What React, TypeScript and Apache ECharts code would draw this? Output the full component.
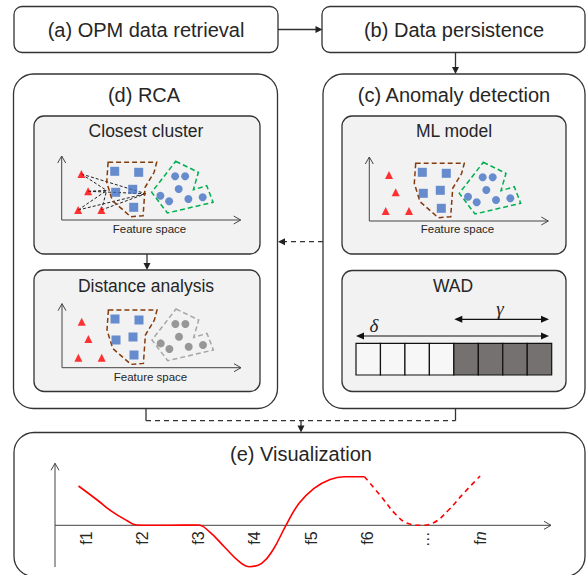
import React, { useEffect, useRef } from "react";
import * as echarts from "echarts";

const FONT = "'Liberation Sans', Arial, sans-serif";
const INK = "#262626";

// ---- feature-space scatter data (units: x right, y up from axis corner) ----
const redTriangles = [[19.7, 46], [26.4, 28.7], [16.4, 10], [39.7, 10]];
const blueSquares = [[53, 48.7], [77, 47.7], [54, 27.7], [71, 30.7], [72, 12.7]];
const clusterCircles = [[113.4, 43.7], [123.4, 43.7], [117, 31], [98.7, 24.3], [107.4, 18.7], [126.7, 21], [141, 22.7]];
const squareHull = [[46.4, 57.7], [95, 57.7], [92.4, 47.7], [83.4, 32.7], [81.4, 4.3], [69, 3.3], [50.7, 19.3], [45, 37.7]];
const circleHull = [[114, 58.7], [136.7, 47.7], [131.7, 30.3], [145, 34.3], [151.4, 17.7], [105.7, 7], [90, 27.7]];
const linkTargets = [[45, 29.5], [84, 26.3]];

// ---- visualization curve ----
const featureLabels = ["f1", "f2", "f3", "f4", "f5", "f6", "…", "fn"];
const vizSolid = [[0.867, 39.3], [1.199, 25.3], [1.464, 13.6], [1.73, 4.6], [1.895, 0.3], [2.46, 0], [2.991, 0.3], [3.19, -6.4], [3.456, -21.4], [3.723, -36.4], [3.908, -41.4], [4.121, -38], [4.32, -24.7], [4.552, 0], [4.785, 22], [5.05, 37], [5.316, 45.3], [5.581, 48.6], [5.947, 48.6]];
const vizDashed = [[5.947, 48.6], [6.245, 28.6], [6.512, 10.3], [6.711, 2], [6.943, 0], [7.174, 2.6], [7.44, 15.3], [7.707, 32], [8.0, 49.3]];

// ---- WAD window cells ----
const wadCells = ["old", "old", "old", "old", "new", "new", "new", "new"];

// panel origins (axis corners) in pixels
const panels = [
  { name: "closest", ox: 61.7, oy: 220, circleColor: "#4472c4", hullColor: "#00b050", links: true },
  { name: "distance", ox: 62, oy: 367.7, circleColor: "#808080", hullColor: "#a6a6a6", links: false },
  { name: "ml", ox: 369.3, oy: 221, circleColor: "#4472c4", hullColor: "#00b050", links: false },
];
const PW = 180;
const PH = 65;

function box(x: number, y: number, w: number, h: number, r: number, fill: string, lw = 1.3) {
  return { type: "rect", shape: { x, y, width: w, height: h, r }, style: { fill, stroke: "#333", lineWidth: lw }, z: 0 };
}
function text(x: number, y: number, t: string, size: number, extra: any = {}) {
  return {
    type: "text", z: 5,
    style: { x, y, text: t, fontSize: size, fontFamily: FONT, fill: INK, align: "center", verticalAlign: "middle", ...extra },
  };
}
function line(x1: number, y1: number, x2: number, y2: number, dash?: number[], color = "#333", lw = 1.3) {
  return { type: "line", z: 3, shape: { x1, y1, x2, y2 }, style: { stroke: color, lineWidth: lw, lineDash: dash || null } };
}
function head(tx: number, ty: number, dir: "r" | "l" | "d", len = 7, half = 3.5, color = "#222") {
  let pts: number[][];
  if (dir === "r") pts = [[tx, ty], [tx - len, ty - half], [tx - len, ty + half]];
  else if (dir === "l") pts = [[tx, ty], [tx + len, ty - half], [tx + len, ty + half]];
  else pts = [[tx, ty], [tx - half, ty - len], [tx + half, ty - len]];
  return { type: "polygon", z: 4, shape: { points: pts }, style: { fill: color } };
}
function chevronAxes(ox: number, oy: number, up: number, right: number, color = "#444") {
  return [
    { type: "polyline", z: 3, shape: { points: [[ox, oy - up], [ox, oy], [ox + right, oy]] }, style: { stroke: color, lineWidth: 1, fill: "none" } },
    { type: "polyline", z: 3, shape: { points: [[ox - 4, oy - up + 7], [ox, oy - up], [ox + 4, oy - up + 7]] }, style: { stroke: color, lineWidth: 1, fill: "none" } },
    { type: "polyline", z: 3, shape: { points: [[ox + right - 7, oy - 4], [ox + right, oy], [ox + right - 7, oy + 4]] }, style: { stroke: color, lineWidth: 1, fill: "none" } },
  ];
}

export default function App() {
  const ref = useRef<HTMLDivElement>(null);
  useEffect(() => {
    if (!ref.current) return;
    const chart = echarts.init(ref.current, undefined, { renderer: "svg" });

    const grids: any[] = [];
    const xAxes: any[] = [];
    const yAxes: any[] = [];
    const series: any[] = [];

    panels.forEach((p, i) => {
      grids.push({ left: p.ox, top: p.oy - PH, width: PW, height: PH, outerBoundsMode: "none", containLabel: false });
      xAxes.push({ gridIndex: i, type: "value", min: 0, max: PW, show: false });
      yAxes.push({ gridIndex: i, type: "value", min: 0, max: PH, show: false });
      if (p.links) {
        const links: number[][] = [];
        redTriangles.forEach((t) => linkTargets.forEach((g) => links.push([t[0], t[1], g[0], g[1]])));
        series.push({
          type: "custom", xAxisIndex: i, yAxisIndex: i, z: 2, silent: true,
          data: links,
          renderItem: (_: any, api: any) => {
            const a = api.coord([api.value(0), api.value(1)]);
            const b = api.coord([api.value(2), api.value(3)]);
            return { type: "line", shape: { x1: a[0], y1: a[1], x2: b[0], y2: b[1] }, style: { stroke: "#222", lineWidth: 1, lineDash: [3, 2] } };
          },
        });
      }
      [[squareHull, "#843c0c"], [circleHull, p.hullColor]].forEach(([hull, color]: any) => {
        series.push({
          type: "custom", xAxisIndex: i, yAxisIndex: i, z: 3, silent: true,
          data: [[0, 0]],
          renderItem: (_: any, api: any) => ({
            type: "polygon",
            shape: { points: hull.map((pt: number[]) => api.coord(pt)) },
            style: { fill: "none", stroke: color, lineWidth: 1.5, lineDash: [5, 3] },
          }),
        });
      });
      series.push({ type: "scatter", xAxisIndex: i, yAxisIndex: i, z: 4, symbol: "triangle", symbolSize: 8, itemStyle: { color: "#ff0000" }, data: redTriangles, silent: true });
      series.push({ type: "scatter", xAxisIndex: i, yAxisIndex: i, z: 4, symbol: "rect", symbolSize: 9, itemStyle: { color: "#4472c4" }, data: blueSquares, silent: true });
      series.push({ type: "scatter", xAxisIndex: i, yAxisIndex: i, z: 4, symbol: "circle", symbolSize: 8, itemStyle: { color: p.circleColor }, data: clusterCircles, silent: true });
    });

    // visualization grid (curve)
    const vi = panels.length;
    grids.push({ left: 29.7, top: 470.3, width: 506.7, height: 100, outerBoundsMode: "none", containLabel: false });
    xAxes.push({ gridIndex: vi, type: "value", min: 0, max: 9, show: false });
    yAxes.push({ gridIndex: vi, type: "value", min: -45, max: 55, show: false });
    series.push({ type: "line", xAxisIndex: vi, yAxisIndex: vi, data: vizSolid, smooth: 0.45, showSymbol: false, lineStyle: { color: "#ff0000", width: 1.6 }, silent: true, z: 4 });
    series.push({ type: "line", xAxisIndex: vi, yAxisIndex: vi, data: vizDashed, smooth: 0.45, showSymbol: false, lineStyle: { color: "#ff0000", width: 1.6, type: [5, 4] }, silent: true, z: 4 });

    // visualization grid (feature axis, bottom edge on the zero line)
    const li = vi + 1;
    grids.push({ left: 29.7, top: 470.3, width: 506.7, height: 55, outerBoundsMode: "none", containLabel: false });
    xAxes.push({
      gridIndex: li, type: "value", min: 0, max: 9, interval: 1, position: "bottom",
      axisLine: { show: false }, axisTick: { show: false }, splitLine: { show: false },
      axisLabel: {
        rotate: 90, margin: 6, fontSize: 16, fontFamily: FONT, color: INK,
        showMinLabel: true, showMaxLabel: true, hideOverlap: false,
        formatter: (v: number) => {
          const k = Math.round(v);
          if (k < 1 || k > featureLabels.length) return "";
          const s = featureLabels[k - 1];
          if (s === "fn") return "{t|f}{it|n}";
          return s;
        },
        rich: {
          t: { fontSize: 16, fontFamily: FONT, color: INK },
          it: { fontSize: 16, fontFamily: FONT, color: INK, fontStyle: "italic" },
        },
      },
    });
    yAxes.push({ gridIndex: li, type: "value", min: 0, max: 1, show: false });

    // ---- diagram frame ----
    const g: any[] = [];
    g.push(box(14, 6.5, 264, 46, 8, "#fff"));
    g.push(box(322, 6.5, 263, 46, 8, "#fff"));
    g.push(box(13.5, 74, 264, 334.5, 20, "#fff"));
    g.push(box(323, 74, 262, 334.5, 20, "#fff"));
    g.push(box(14, 432.5, 571, 144, 20, "#fff"));
    g.push(box(34, 116, 226, 138, 10, "#f2f2f2"));
    g.push(box(34, 270, 226, 121.5, 10, "#f2f2f2"));
    g.push(box(342, 116, 224, 138, 10, "#f2f2f2"));
    g.push(box(342, 270.5, 224, 121, 10, "#f2f2f2"));

    g.push(text(146, 29.5, "(a) OPM data retrieval", 20));
    g.push(text(454, 29.5, "(b) Data persistence", 20));
    g.push(text(144, 95, "(d) RCA", 20));
    g.push(text(454, 95, "(c) Anomaly detection", 20));
    g.push(text(301, 454, "(e) Visualization", 20));
    g.push(text(146, 131, "Closest cluster", 17.5));
    g.push(text(146, 285.5, "Distance analysis", 17.5));
    g.push(text(454, 131, "ML model", 17.5));
    g.push(text(453, 285.5, "WAD", 17.5));
    g.push(text(149.5, 228.5, "Feature space", 11.5));
    g.push(text(150.5, 376.5, "Feature space", 11.5));
    g.push(text(457.5, 229, "Feature space", 11.5));

    // connectors
    g.push(line(278, 29.5, 316, 29.5));
    g.push(head(322.5, 29.5, "r"));
    g.push(line(455.5, 52.5, 455.5, 67));
    g.push(head(455.5, 74, "d"));
    g.push(line(323, 241.7, 285, 241.7, [5, 4]));
    g.push(head(278, 241.7, "l"));
    g.push(line(147, 254, 147, 264));
    g.push(head(147, 270, "d"));
    g.push(line(146, 408.5, 146, 420.7));
    g.push(line(455.5, 408.5, 455.5, 420.7));
    g.push(line(146, 420.7, 455.5, 420.7, [5, 4]));
    g.push(line(301, 420.7, 301, 426));
    g.push(head(301, 432.5, "d"));

    // scatter panel axes
    panels.forEach((p) => g.push(...chevronAxes(p.ox, p.oy, 64, 179)));
    // visualization axes
    g.push(...chevronAxes(55, 525.3, 62, 496));
    g.push(line(55, 525.3, 55, 567, undefined, "#444", 1));

    // WAD window
    const cx0 = 356, cw = (551.7 - 356) / wadCells.length, cy = 343.3, ch = 31.7;
    wadCells.forEach((c, k) => {
      g.push({ type: "rect", z: 3, shape: { x: cx0 + k * cw, y: cy, width: cw, height: ch }, style: { fill: c === "new" ? "#767171" : "#f7f7f7", stroke: "#111", lineWidth: 1.2 } });
    });
    g.push(line(462, 319.3, 541, 319.3, undefined, "#111", 1.2));
    g.push(head(454.3, 319.3, "l", 8, 3.5, "#111"));
    g.push(head(549, 319.3, "r", 8, 3.5, "#111"));
    g.push(line(364, 336, 541, 336, undefined, "#111", 1.2));
    g.push(head(356, 336, "l", 8, 3.5, "#111"));
    g.push(head(549, 336, "r", 8, 3.5, "#111"));
    g.push(text(374, 325, "δ", 19, { fontFamily: "'Liberation Serif', serif", fontStyle: "italic" }));
    g.push(text(500, 308, "γ", 19, { fontFamily: "'Liberation Serif', serif", fontStyle: "italic" }));

    chart.setOption({
      animation: false,
      backgroundColor: "#fff",
      grid: grids,
      xAxis: xAxes,
      yAxis: yAxes,
      series,
      graphic: { elements: g },
    });
    return () => chart.dispose();
  }, []);

  return <div ref={ref} style={{ position: "fixed", left: 0, top: 0, width: 587, height: 575 }} />;
}
